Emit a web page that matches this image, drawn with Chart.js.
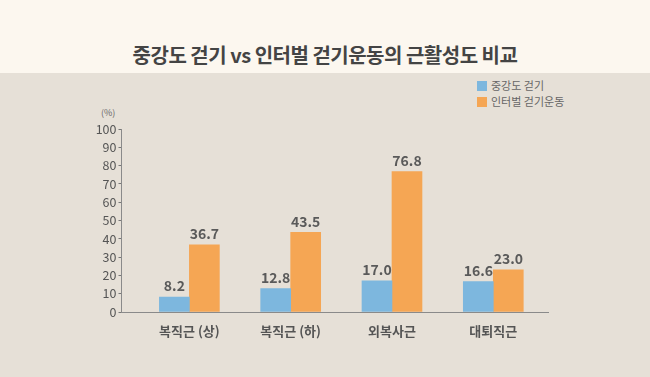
<!DOCTYPE html>
<html>
<head>
<meta charset="utf-8">
<script src="https://cdn.jsdelivr.net/npm/chart.js@4"></script>
<style>
  body { margin: 0; width: 650px; height: 377px; background: #e6e0d7; position: relative; overflow: hidden;
         font-family: 'Noto Sans CJK KR', sans-serif; }
  #band { position: absolute; left: 0; top: 0; width: 650px; height: 73px; background: #fcf7ef; }
  #title { position: absolute; left: 0; width: 650px; top: 40px; text-align: center; font-size: 20px;
           font-weight: bold; color: #444; letter-spacing: -0.5px; }
  #legend { position: absolute; left: 477px; top: 77px; font-size: 11px; color: #666; line-height: 16px; }
  #legend span { display: inline-block; width: 10px; height: 10px; margin-right: 4px; vertical-align: -1px; }
  #unit { position: absolute; left: 101px; top: 106px; font-size: 9px; color: #666; }
  #wrap { position: absolute; left: 0; top: 0; width: 650px; height: 377px; }
</style>
</head>
<body>
<div id="band"></div>
<div id="title">중강도 걷기 vs 인터벌 걷기운동의 근활성도 비교</div>
<div id="legend">
  <div><span style="background:#7db7de"></span>중강도 걷기</div>
  <div><span style="background:#f5a654"></span>인터벌 걷기운동</div>
</div>
<div id="unit">(%)</div>
<div id="wrap"><canvas id="chart" width="650" height="377"></canvas></div>
<script>
// muscle activity, %
const categories = ['복직근 (상)', '복직근 (하)', '외복사근', '대퇴직근'];
const moderateWalk = [8.2, 12.8, 17.0, 16.6];
const intervalWalk = [36.7, 43.5, 76.8, 23.0];
const yTicks = [0, 10, 20, 30, 40, 50, 60, 70, 80, 90, 100];

const fontFam = "'Noto Sans CJK KR', sans-serif";

// values above the bars
const valueLabels = {
    id: 'valueLabels',
    afterDatasetsDraw(chart) {
        const ctx = chart.ctx;
        ctx.save();
        ctx.font = 'bold 14px ' + fontFam;
        ctx.fillStyle = '#5a5a5a';
        ctx.textAlign = 'center';
        ctx.textBaseline = 'bottom';
        chart.data.datasets.forEach((ds, i) => {
            chart.getDatasetMeta(i).data.forEach((bar, j) => {
                ctx.fillText(ds.data[j].y.toFixed(1), bar.x, bar.y - 4);
            });
        });
        ctx.restore();
    }
};

const ctx = document.getElementById('chart').getContext('2d');
const myChart = new Chart(ctx, {
    type: 'bar',
    data: {
        datasets: [{
            label: '중강도 걷기',
            data: moderateWalk.map((v, i) => ({x: i, y: v})),
            backgroundColor: '#7db7de',
            barThickness: 30
        }, {
            label: '인터벌 걷기운동',
            data: intervalWalk.map((v, i) => ({x: i, y: v})),
            backgroundColor: '#f5a654',
            barThickness: 30
        }]
    },
    options: {
        responsive: false,
        animation: false,
        layout: { padding: { top: 129, left: 88, right: 102, bottom: 0 } },
        plugins: {
            legend: { display: false },
            tooltip: { enabled: false }
        },
        scales: {
            x: {
                type: 'linear',
                offset: false,
                min: -0.67,
                max: 3.54,
                afterBuildTicks: s => { s.ticks = categories.map((c, i) => ({value: i})); },
                afterFit: s => { s.height = 65; },
                grid: { display: false },
                border: { display: true, color: '#8a8a8a' },
                ticks: {
                    padding: 3,
                    color: '#555',
                    font: { family: fontFam, size: 13, weight: 'bold' },
                    callback: v => categories[v]
                }
            },
            y: {
                min: 0,
                max: 100,
                afterBuildTicks: s => { s.ticks = yTicks.map(v => ({value: v})); },
                afterFit: s => { s.width = 33.5; },
                grid: { drawOnChartArea: false, drawTicks: true, tickLength: 3, color: '#777' },
                border: { display: true, color: '#8a8a8a' },
                ticks: {
                    padding: 2,
                    color: '#555',
                    font: { family: fontFam, size: 12.5 }
                }
            }
        }
    },
    plugins: [valueLabels]
});
</script>
</body>
</html>
